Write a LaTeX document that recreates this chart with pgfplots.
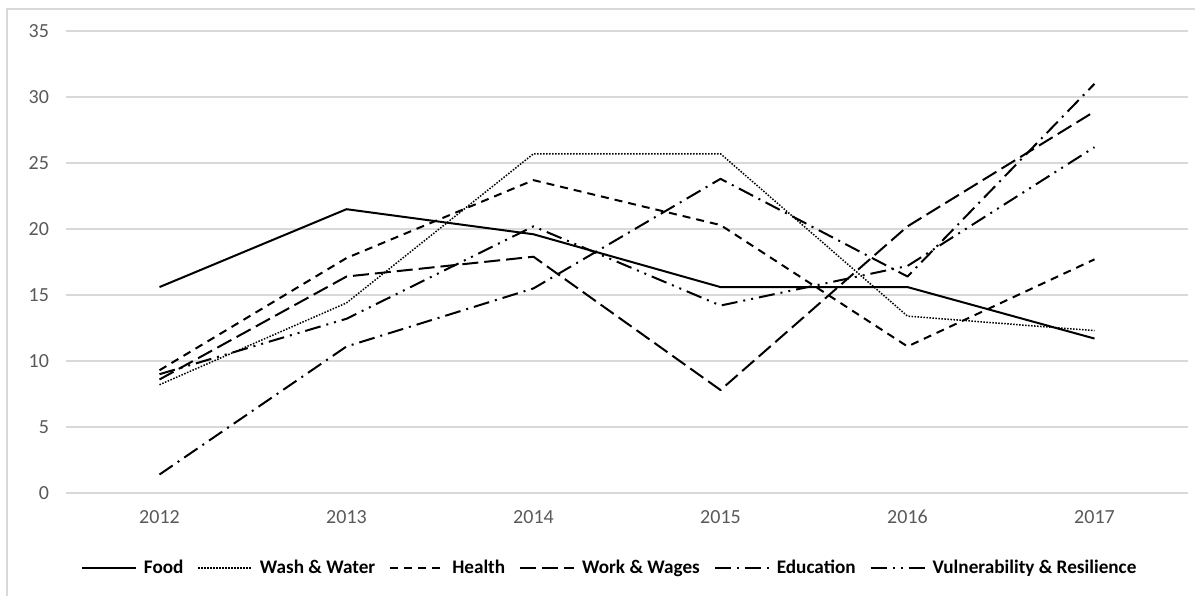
\documentclass[border=0pt]{standalone}
\usepackage{fontspec}
\setmainfont{Carlito}
\usepackage{pgfplots}
\pgfplotsset{compat=1.18}
\definecolor{gridgray}{HTML}{D9D9D9}
\definecolor{ticktext}{HTML}{595959}

\begin{document}
\begin{tikzpicture}
\useasboundingbox (0,0) rectangle (597.5pt,-297.5pt);
% chart frame, right and bottom edges fall outside the page
\draw[gridgray, line width=1pt] (3.5pt,-320pt) -- (3.5pt,-4.5pt) -- (620pt,-4.5pt);
\begin{axis}[
  at={(33pt,-15.5pt)}, anchor=north west,
  scale only axis, width=561pt, height=231pt,
  xmin=-0.5, xmax=5.5, ymin=0, ymax=35,
  xtick={0,1,2,3,4,5},
  xticklabels={2012,2013,2014,2015,2016,2017},
  ytick={0,5,...,35},
  ymajorgrids, major grid style={gridgray, line width=0.9pt},
  axis line style={draw=none}, tick style={draw=none},
  /pgf/number format/assume math mode=true,
  ticklabel style={font=\fontsize{10}{12}\selectfont, text=ticktext},
  yticklabel style={xshift=-5pt},
  xticklabel style={yshift=-5pt},
  legend columns=-1,
  legend style={at={(0.485,-0.162)}, anchor=center, draw=none, fill=none,
    font=\fontsize{9.6}{11.5}\selectfont\bfseries,
    nodes={inner sep=1.5pt},
    /tikz/every odd column/.append style={column sep=2pt},
    /tikz/every even column/.append style={column sep=5.5pt}},
  legend image code/.code={\draw[#1] (0pt,0pt) -- (27pt,0pt);},
  every axis plot/.append style={black, line width=1pt, line join=round},
]
\addplot[solid] coordinates {(0,15.6) (1,21.5) (2,19.6) (3,15.6) (4,15.6) (5,11.7)};
\addlegendentry{Food}
\addplot[line width=0.75pt, dash pattern=on 0.75pt off 0.75pt] coordinates {(0,8.2) (1,14.4) (2,25.7) (3,25.7) (4,13.4) (5,12.3)};
\addlegendentry{Wash \& Water}
\addplot[dash pattern=on 4pt off 3pt] coordinates {(0,9.3) (1,17.8) (2,23.7) (3,20.3) (4,11.1) (5,17.7)};
\addlegendentry{Health}
\addplot[dash pattern=on 8pt off 3pt] coordinates {(0,8.6) (1,16.4) (2,17.9) (3,7.8) (4,20.2) (5,28.9)};
\addlegendentry{Work \& Wages}
\addplot[dash pattern=on 8pt off 3pt on 1pt off 3pt] coordinates {(0,1.4) (1,11.1) (2,15.5) (3,23.8) (4,16.4) (5,31.0)};
\addlegendentry{Education}
\addplot[dash pattern=on 8pt off 3pt on 1pt off 3pt on 1pt off 3pt] coordinates {(0,9.0) (1,13.2) (2,20.2) (3,14.2) (4,17.2) (5,26.2)};
\addlegendentry{Vulnerability \& Resilience}
\end{axis}
\end{tikzpicture}
\end{document}
